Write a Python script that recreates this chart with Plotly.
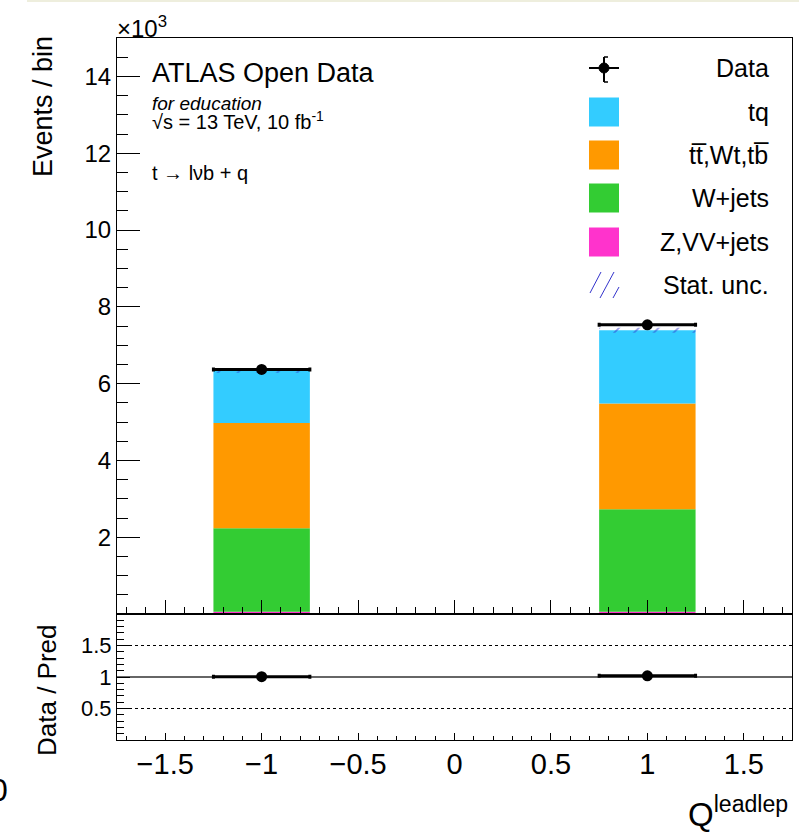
import numpy as np
import plotly.graph_objects as go

W, H = 799, 835

# ---------------- data (events per bin) ----------------
bin_centers = [-1.0, 1.0]
bin_width = 0.5
data_counts = [6370, 7530]
z_vv_jets = [60, 60]
w_jets = [2175, 2670]
top_bkg = [2740, 2750]          # ttbar, Wt, tb
tq_signal = [1365, 1910]
stat_unc = [65, 65]

x_ticks = [-1.5, -1.0, -0.5, 0.0, 0.5, 1.0, 1.5]
x_tick_text = ["\u22121.5", "\u22121", "\u22120.5", "0", "0.5", "1", "1.5"]
y_ticks = [2, 4, 6, 8, 10, 12, 14]
ratio_ticks = [0.5, 1.0, 1.5]
ratio_tick_text = ["0.5", "1", "1.5"]

legend_labels = ["Data", "tq", "tt\u0305,Wt,tb\u0305", "W+jets", "Z,VV+jets", "Stat. unc."]
colors = {"tq": "#33ccff", "top": "#ff9900", "w": "#33cc33", "z": "#ff33cc"}
hatch_color = "#3333cc"

FONT = "Liberation Sans, Arial, Helvetica, sans-serif"

def px(x):
    return x / W

def py(y):
    return 1 - y / H

scale = 1000.0
layers = [
    ("Z,VV+jets", z_vv_jets, colors["z"]),
    ("W+jets", w_jets, colors["w"]),
    ("top", top_bkg, colors["top"]),
    ("tq", tq_signal, colors["tq"]),
]

fig = go.Figure()
base = np.zeros(len(bin_centers))
for name, vals, col in layers:
    v = np.array(vals, dtype=float)
    fig.add_trace(go.Bar(
        x=bin_centers, y=v / scale, base=base / scale, width=bin_width,
        marker=dict(color=col, line=dict(width=0)), name=name,
        showlegend=False, xaxis="x", yaxis="y"))
    base = base + v
mc_total = base.copy()

unc = np.array(stat_unc, dtype=float)
fig.add_trace(go.Bar(
    x=bin_centers, y=2 * unc / scale, base=(mc_total - unc) / scale, width=bin_width,
    marker=dict(color="rgba(0,0,0,0)", line=dict(width=0),
                pattern=dict(shape="/", fgcolor=hatch_color, bgcolor="rgba(0,0,0,0)",
                             size=14, solidity=0.12, fillmode="overlay")),
    showlegend=False, xaxis="x", yaxis="y"))

d = np.array(data_counts, dtype=float)
fig.add_trace(go.Scatter(
    x=bin_centers, y=d / scale, mode="markers",
    marker=dict(color="black", size=11),
    error_x=dict(type="constant", value=bin_width / 2, color="black", thickness=3, width=2),
    error_y=dict(type="data", array=np.sqrt(d) / scale, color="black", thickness=2, width=0),
    showlegend=False, xaxis="x", yaxis="y"))

ratio = d / mc_total
ratio_err = np.sqrt(d) / mc_total
fig.add_trace(go.Scatter(
    x=bin_centers, y=ratio, mode="markers",
    marker=dict(color="black", size=11),
    error_x=dict(type="constant", value=bin_width / 2, color="black", thickness=3, width=2),
    error_y=dict(type="data", array=ratio_err, color="black", thickness=2, width=0),
    showlegend=False, xaxis="x2", yaxis="y2"))

xdom = [px(117), px(792)]
tickfont_main = dict(family=FONT, size=24, color="black")

fig.update_layout(
    width=W, height=H, margin=dict(l=0, r=0, t=0, b=0),
    paper_bgcolor="white", plot_bgcolor="rgba(0,0,0,0)",
    barmode="overlay", font=dict(family=FONT, color="black"),
    xaxis=dict(domain=xdom, range=[-1.75, 1.75], anchor="y",
               showline=True, mirror=True, linecolor="black", linewidth=1,
               showgrid=False, zeroline=False,
               ticks="inside", tickvals=x_ticks, showticklabels=False,
               ticklen=14, tickwidth=1, tickcolor="black",
               minor=dict(ticks="inside", dtick=0.1, tick0=0, ticklen=7,
                          tickwidth=1, tickcolor="black", showgrid=False)),
    yaxis=dict(domain=[py(614), py(38)], range=[0, 15], anchor="x",
               showline=True, mirror=True, linecolor="black", linewidth=1,
               showgrid=False, zeroline=False,
               ticks="inside", tickvals=y_ticks, ticktext=[str(v) for v in y_ticks],
               ticklen=23, tickwidth=1, tickcolor="black", tickfont=tickfont_main,
               minor=dict(ticks="inside", dtick=0.5, tick0=0, ticklen=11,
                          tickwidth=1, tickcolor="black", showgrid=False)),
    xaxis2=dict(domain=xdom, range=[-1.75, 1.75], anchor="y2",
                showline=True, mirror=True, linecolor="black", linewidth=1,
                showgrid=False, zeroline=False,
                ticks="inside", tickvals=x_ticks, ticktext=x_tick_text,
                ticklen=7, tickwidth=1, tickcolor="black",
                tickfont=dict(family=FONT, size=29, color="black"),
                ticklabelstandoff=-2,
                minor=dict(ticks="inside", dtick=0.1, tick0=0, ticklen=4,
                           tickwidth=1, tickcolor="black", showgrid=False)),
    yaxis2=dict(domain=[py(740), py(614)], range=[0, 2], anchor="x2",
                showline=True, mirror=True, linecolor="black", linewidth=1,
                showgrid=False, zeroline=False,
                ticks="inside", tickvals=ratio_ticks, ticktext=ratio_tick_text,
                ticklen=13, tickwidth=1, tickcolor="black",
                tickfont=dict(family=FONT, size=22, color="black"),
                minor=dict(ticks="inside", dtick=0.1, tick0=0, ticklen=7,
                           tickwidth=1, tickcolor="black", showgrid=False)),
)

shapes = []
# ratio reference lines
shapes.append(dict(type="line", xref="x2 domain", yref="y2", x0=0, x1=1, y0=1, y1=1,
                   line=dict(color="#666666", width=2), layer="below"))
for yv in (0.5, 1.5):
    shapes.append(dict(type="line", xref="x2 domain", yref="y2", x0=0, x1=1, y0=yv, y1=yv,
                       line=dict(color="black", width=1, dash="dot"), layer="below"))
# faint border at very top
shapes.append(dict(type="rect", xref="paper", yref="paper", x0=px(27), x1=1, y0=py(2), y1=1,
                   fillcolor="#eeeedd", line=dict(width=0)))

# legend
leg_x0, leg_x1 = 589, 619
row_y = [68, 112, 155, 198, 242, 285]
# data symbol
shapes.append(dict(type="line", xref="paper", yref="paper", x0=px(leg_x0), x1=px(leg_x1),
                   y0=py(row_y[0]), y1=py(row_y[0]), line=dict(color="black", width=2)))
shapes.append(dict(type="line", xref="paper", yref="paper", x0=px(604), x1=px(604),
                   y0=py(57), y1=py(82), line=dict(color="black", width=2)))
shapes.append(dict(type="line", xref="paper", yref="paper", x0=px(604), x1=px(608),
                   y0=py(82), y1=py(82), line=dict(color="black", width=1.5)))
shapes.append(dict(type="line", xref="paper", yref="paper", x0=px(604), x1=px(608),
                   y0=py(57), y1=py(57), line=dict(color="black", width=1.5)))
shapes.append(dict(type="circle", xref="paper", yref="paper", x0=px(599), x1=px(609),
                   y0=py(row_y[0] + 5), y1=py(row_y[0] - 5),
                   fillcolor="black", line=dict(color="black", width=1)))
swatch_cols = [colors["tq"], colors["top"], colors["w"], colors["z"]]
for i, c in enumerate(swatch_cols):
    yc = row_y[i + 1]
    shapes.append(dict(type="rect", xref="paper", yref="paper", x0=px(leg_x0), x1=px(leg_x1),
                       y0=py(yc + 14.5), y1=py(yc - 14.5), fillcolor=c, line=dict(width=0)))
# stat unc hatch symbol
yc = row_y[5]
for (ax, ay, bx, by) in [(590, yc + 8, 601, yc - 13), (600, yc + 13, 614, yc - 13), (613, yc + 13, 619, yc + 2)]:
    shapes.append(dict(type="line", xref="paper", yref="paper", x0=px(ax), x1=px(bx),
                       y0=py(ay), y1=py(by), line=dict(color=hatch_color, width=1)))

annotations = []
for lab, yc in zip(legend_labels, row_y):
    annotations.append(dict(text=lab, xref="paper", yref="paper", x=px(771), y=py(yc),
                            xanchor="right", yanchor="middle", showarrow=False,
                            font=dict(family=FONT, size=25, color="black")))

annotations += [
    dict(text="ATLAS Open Data", xref="paper", yref="paper", x=px(150), y=py(73),
         xanchor="left", yanchor="middle", showarrow=False,
         font=dict(family=FONT, size=27, color="black")),
    dict(text="<i>for education</i>", xref="paper", yref="paper", x=px(150), y=py(103),
         xanchor="left", yanchor="middle", showarrow=False,
         font=dict(family=FONT, size=19, color="black")),
    dict(text="\u221As = 13 TeV, 10 fb<sup>-1</sup>", xref="paper", yref="paper", x=px(150), y=py(120),
         xanchor="left", yanchor="middle", showarrow=False,
         font=dict(family=FONT, size=20, color="black")),
    dict(text="t \u2192 l\u03bdb + q", xref="paper", yref="paper", x=px(150), y=py(173),
         xanchor="left", yanchor="middle", showarrow=False,
         font=dict(family=FONT, size=20, color="black")),
    dict(text="\u00d710<sup>3</sup>", xref="paper", yref="paper", x=px(115), y=py(27),
         xanchor="left", yanchor="middle", showarrow=False,
         font=dict(family=FONT, size=24, color="black")),
    dict(text="Events / bin", xref="paper", yref="paper", x=px(43), y=py(107),
         xanchor="center", yanchor="middle", textangle=-90, showarrow=False,
         font=dict(family=FONT, size=27, color="black")),
    dict(text="Data / Pred", xref="paper", yref="paper", x=px(47), y=py(690),
         xanchor="center", yanchor="middle", textangle=-90, showarrow=False,
         font=dict(family=FONT, size=26, color="black")),
    dict(text="Q<sup>leadlep</sup>", xref="paper", yref="paper", x=px(790), y=py(835),
         xanchor="right", yanchor="bottom", showarrow=False,
         font=dict(family=FONT, size=33, color="black")),
    dict(text="0", xref="paper", yref="paper", x=px(10), y=py(790),
         xanchor="right", yanchor="middle", showarrow=False,
         font=dict(family=FONT, size=32, color="black")),
]

fig.update_layout(shapes=shapes, annotations=annotations)
fig.write_html("out.html")
